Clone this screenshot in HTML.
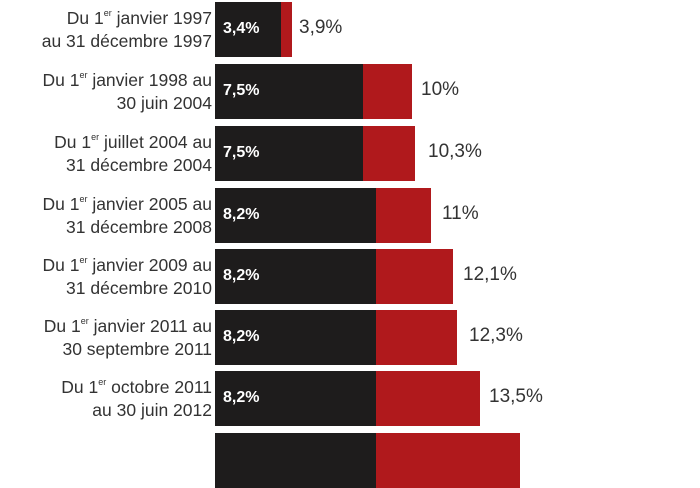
<!DOCTYPE html>
<html><head><style>
body{margin:0;width:700px;height:441px;background:#fff;overflow:hidden;position:relative;font-family:"Liberation Sans",sans-serif}
.r{position:absolute;left:0;width:700px;height:55px}
.l{position:absolute;right:488px;top:5px;text-align:right;font-size:17.5px;line-height:23px;color:#333;white-space:nowrap}
.l sup{font-size:9px;vertical-align:top;line-height:12px}
.b{position:absolute;left:215px;top:0;height:55px;background:#1e1c1c}
.d{position:absolute;top:0;height:55px;background:#b0191c}
.bl{position:absolute;left:223px;top:18px;color:#fff;font-weight:bold;font-size:16px}
.v{position:absolute;top:15px;font-size:19px;color:#333}
</style></head><body>
<div class="r" style="top:2px"><div class="l">Du 1<sup>er</sup> janvier 1997<br>au 31 décembre 1997</div><div class="d" style="left:215px;width:77px"></div><div class="b" style="width:66px"></div><div class="bl">3,4%</div><div class="v" style="left:299px">3,9%</div></div>
<div class="r" style="top:64px"><div class="l">Du 1<sup>er</sup> janvier 1998 au<br>30 juin 2004</div><div class="d" style="left:215px;width:197px"></div><div class="b" style="width:148px"></div><div class="bl">7,5%</div><div class="v" style="left:421px">10%</div></div>
<div class="r" style="top:126px"><div class="l">Du 1<sup>er</sup> juillet 2004 au<br>31 décembre 2004</div><div class="d" style="left:215px;width:200px"></div><div class="b" style="width:148px"></div><div class="bl">7,5%</div><div class="v" style="left:428px">10,3%</div></div>
<div class="r" style="top:188px"><div class="l">Du 1<sup>er</sup> janvier 2005 au<br>31 décembre 2008</div><div class="d" style="left:215px;width:216px"></div><div class="b" style="width:161px"></div><div class="bl">8,2%</div><div class="v" style="left:442px">11%</div></div>
<div class="r" style="top:249px"><div class="l">Du 1<sup>er</sup> janvier 2009 au<br>31 décembre 2010</div><div class="d" style="left:215px;width:238px"></div><div class="b" style="width:161px"></div><div class="bl">8,2%</div><div class="v" style="left:463px">12,1%</div></div>
<div class="r" style="top:310px"><div class="l">Du 1<sup>er</sup> janvier 2011 au<br>30 septembre 2011</div><div class="d" style="left:215px;width:242px"></div><div class="b" style="width:161px"></div><div class="bl">8,2%</div><div class="v" style="left:469px">12,3%</div></div>
<div class="r" style="top:371px"><div class="l">Du 1<sup>er</sup> octobre 2011<br>au 30 juin 2012</div><div class="d" style="left:215px;width:265px"></div><div class="b" style="width:161px"></div><div class="bl">8,2%</div><div class="v" style="left:489px">13,5%</div></div>
<div class="r" style="top:433px"><div class="d" style="left:215px;width:305px"></div><div class="b" style="width:161px"></div></div>
</body></html>
